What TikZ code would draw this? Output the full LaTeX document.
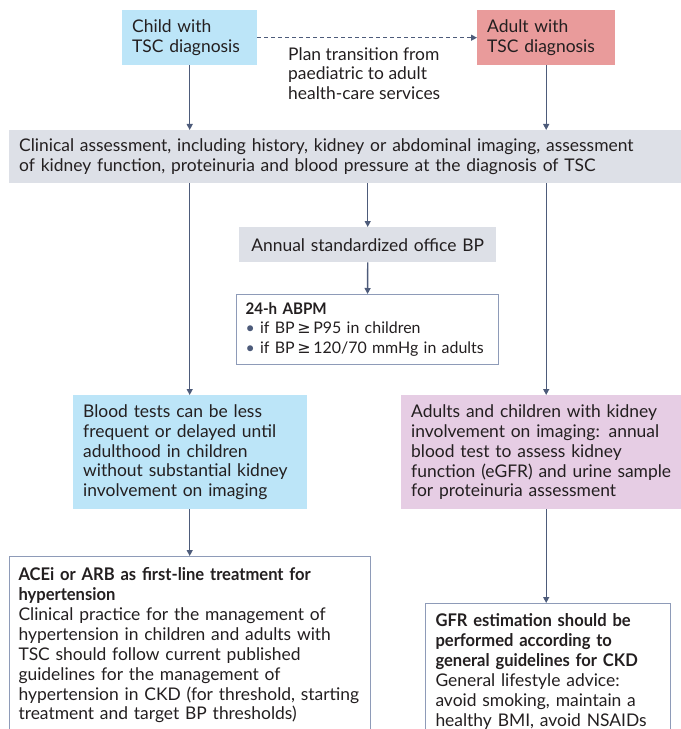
\documentclass[tikz,border=0pt]{standalone}
\usepackage{fontspec}
\setmainfont{Lato}[BoldFeatures={FakeStretch=0.95}]
\newfontfamily\symfont{DejaVu Sans}
\usetikzlibrary{positioning,arrows.meta}

\definecolor{boxBlue}{HTML}{BCE5F8}
\definecolor{boxRed}{HTML}{E99B9B}
\definecolor{boxGrey}{HTML}{DDE0E7}
\definecolor{boxPurple}{HTML}{E6CDE4}
\definecolor{lineCol}{HTML}{4D5B7A}
\definecolor{borderCol}{HTML}{8E9BB8}
\definecolor{textCol}{HTML}{231F20}

\begin{document}
\begin{tikzpicture}[
    x=1bp, y=-1bp,
    font=\fontsize{17.5}{20}\selectfont,
    box/.style={rectangle, anchor=north west, align=left, inner xsep=10bp, inner ysep=0bp, text=textCol},
    blueNode/.style={box, fill=boxBlue},
    redNode/.style={box, fill=boxRed},
    greyNode/.style={box, fill=boxGrey},
    purpleNode/.style={box, fill=boxPurple},
    whiteNode/.style={box, fill=white, draw=borderCol, line width=1bp},
    arrow/.style={-{Triangle[length=6bp, width=6bp]}, draw=lineCol, line width=1.3bp},
    dashArrow/.style={arrow, dash pattern=on 4bp off 3bp}
  ]
  \useasboundingbox (0,0) rectangle (681,729);

  % Top row
  \node[blueNode, text width=115bp, minimum height=55bp] (child) at (122,10)
    {Child with\\TSC diagnosis};
  \node[redNode, text width=118bp, minimum height=55bp] (adult) at (477,10)
    {Adult with\\TSC diagnosis};
  \node[box, inner xsep=0bp] (plan) at (288,47)
    {Plan transition from\\paediatric to adult\\health-care services};

  % Assessment
  \node[greyNode, inner xsep=10bp, text width=670bp, minimum height=53bp] (clinical) at (9,130)
    {Clinical assessment, including history, kidney or abdominal imaging, assessment\\
     of kidney function, proteinuria and blood pressure at the diagnosis of TSC};
  \node[greyNode, align=center, text width=237bp, minimum height=35bp] (annual) at (239,227)
    {Annual standardized office BP};
  \node[whiteNode, font=\fontsize{16}{20}\selectfont, inner xsep=9bp, text width=244bp, minimum height=70bp] (abpm) at (236,294)
    {\textbf{24-h ABPM}\\
     {\color{lineCol}\textbullet}~if BP\,{\symfont ≥}\,P95 in children\\
     {\color{lineCol}\textbullet}~if BP\,{\symfont ≥}\,120/70 mmHg in adults};

  % Follow-up
  \node[blueNode, text width=214bp, minimum height=114bp] (blood) at (73,395)
    {Blood tests can be less\\frequent or delayed until\\adulthood in children\\
     without substantial kidney\\involvement on imaging};
  \node[purpleNode, text width=270bp, minimum height=114bp] (kidney) at (401,395)
    {Adults and children with kidney\\involvement on imaging: annual\\blood test to assess kidney\\
     function (eGFR) and urine sample\\for proteinuria assessment};

  % Treatment
  \node[whiteNode, inner xsep=9bp, inner ysep=11bp, text width=343bp] (treat) at (9,556)
    {\textbf{ACEi or ARB as first-line treatment for}\\\textbf{hypertension}\\
     Clinical practice for the management of\\hypertension in children and adults with\\
     TSC should follow current published\\guidelines for the management of\\
     hypertension in CKD (for threshold, starting\\treatment and target BP thresholds)\\\mbox{}};
  \node[whiteNode, inner ysep=10bp, text width=225bp] (gfr) at (425,603)
    {\textbf{GFR estimation should be}\\\textbf{performed according to}\\\textbf{general guidelines for CKD}\\
     General lifestyle advice:\\avoid smoking, maintain a\\healthy BMI, avoid NSAIDs\\\mbox{}};

  % Arrows
  \draw[dashArrow] (child.east) -- (adult.west);
  \draw[arrow] (child) -- (child |- clinical.north);
  \draw[arrow] (adult) -- (adult |- clinical.north);
  \draw[arrow] (clinical.south -| child) -- (blood.north -| child);
  \draw[arrow] (clinical.south -| annual) -- (annual.north);
  \draw[arrow] (annual) -- (abpm);
  \draw[arrow] (clinical.south -| adult) -- (kidney.north -| adult);
  \draw[arrow] (blood.south -| child) -- (treat.north -| child);
  \draw[arrow] (kidney.south -| adult) -- (gfr.north -| adult);

\end{tikzpicture}
\end{document}
